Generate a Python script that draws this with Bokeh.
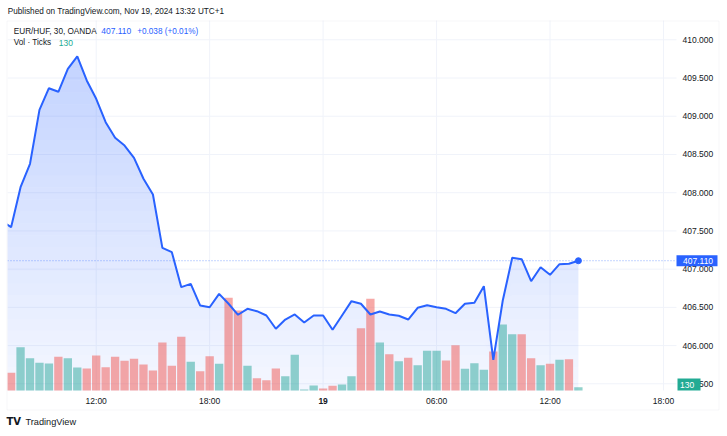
import numpy as np
from bokeh.plotting import figure
from bokeh.models import Range1d, Label, BoxAnnotation, ColumnDataSource
from bokeh.core.properties import value
from bokeh.embed import file_html
from bokeh.resources import INLINE

# ---------------- data ----------------
header = "Published on TradingView.com, Nov 19, 2024 13:32 UTC+1"
symbol = "EUR/HUF, 30, OANDA"
change_text = "+0.038 (+0.01%)"
vol_title = "Vol · Ticks"

prev_close = 407.63  # close of the bar just before the visible window
closes = [407.549, 408.072, 408.378, 409.084, 409.367, 409.320, 409.621, 409.782, 409.468, 409.228,
          408.922, 408.718, 408.617, 408.456, 408.182, 407.976, 407.279, 407.222, 406.764, 406.808,
          406.524, 406.502, 406.677, 406.547, 406.403, 406.481, 406.450, 406.394, 406.220, 406.341,
          406.407, 406.302, 406.394, 406.394, 406.207, 406.394, 406.581, 406.547, 406.407, 406.446,
          406.407, 406.390, 406.341, 406.494, 406.528, 406.502, 406.481, 406.424, 406.547, 406.560,
          406.777, 405.814, 406.590, 407.148, 407.130, 406.842, 407.025, 406.926, 407.065, 407.070,
          407.110]

volumes = [710, 1730, 1290, 1110, 1080, 1350, 1290, 920, 880, 1400,
           930, 1350, 1190, 1270, 1040, 800, 1920, 990, 2150, 1150,
           770, 1370, 1070, 3710, 3200, 990, 490, 410, 880, 570,
           1430, 40, 200, 80, 190, 240, 570, 2490, 3670, 1920,
           1450, 1170, 1310, 1010, 1590, 1590, 1200, 1810, 870, 1090,
           830, 1560, 2640, 2250, 2250, 1290, 1010, 1070, 1230, 1250,
           130]

directions = ["down", "up", "up", "up", "up", "down", "up", "up", "down", "down",
              "down", "down", "down", "down", "down", "down", "down", "down", "down", "up",
              "down", "down", "up", "down", "down", "up", "down", "down", "down", "up",
              "up", "up", "up", "down", "down", "up", "up", "down", "down", "up",
              "down", "up", "down", "up", "up", "up", "down", "down", "up", "up",
              "up", "down", "up", "up", "down", "down", "up", "down", "up", "down",
              "up"]

time_ticks = [9, 21, 33, 45, 57, 69]          # bar index (30-min bars from Nov 18 07:30)
time_labels = ["12:00", "18:00", "19", "06:00", "12:00", "18:00"]
price_ticks = [405.5, 406.0, 406.5, 407.0, 407.5, 408.0, 408.5, 409.0, 409.5, 410.0]
price_labels = ["405.500", "406.000", "406.500", "407.000", "407.500",
                "408.000", "408.500", "409.000", "409.500", "410.000"]

# ---------------- layout / styling ----------------
W, H = 727, 436
BAR_PX = 9.455          # pixels per bar
BAR0_PX = 10.6          # pixel x of bar 0
PRICE_PX = 0.013081     # price per pixel
REF_PRICE, REF_PY = 410.0, 39.3
VOL_PX = 40.0           # volume per pixel
PANE_L, PANE_R, PANE_T, PANE_B = 7, 676, 20, 390

def px_x(px):
    return (px - BAR0_PX) / BAR_PX

def py_price(py):
    return REF_PRICE - (py - REF_PY) * PRICE_PX

FONT = "Liberation Sans"
TXT = "#131722"
BLUE = "#2962ff"
UP = "#26a69a"
DOWN = "#ef5350"
TEAL = "#22ab94"
GRID = "#f0f3fa"

xl, xr = px_x(PANE_L), px_x(PANE_R)
yt, yb = py_price(PANE_T), py_price(PANE_B)

p = figure(width=W, height=H,
           x_range=Range1d(px_x(0), px_x(W)), y_range=Range1d(py_price(H), py_price(0)),
           output_backend="svg", toolbar_location=None,
           x_axis_location=None, y_axis_location=None,
           min_border=0, background_fill_color="white", border_fill_color="white",
           outline_line_color=None)
p.grid.visible = False
p.extra_y_ranges = {"vol": Range1d(-(H - PANE_B) * VOL_PX, PANE_B * VOL_PX)}

# grid
p.segment(x0=xl, x1=xr, y0=price_ticks, y1=price_ticks, line_color=GRID, line_width=1)
p.segment(x0=time_ticks, x1=time_ticks, y0=yb, y1=yt, line_color=GRID, line_width=1)

# area fill (vertical gradient approximated by stacked bands)
idx = list(range(len(closes)))
line_x = np.array([-1] + idx, dtype=float)
line_y = np.array([prev_close] + closes, dtype=float)
n_bands = 28
edges = np.linspace(yb, max(closes), n_bands + 1)
for i in range(n_bands):
    lower = np.minimum(line_y, edges[i])
    upper = np.minimum(line_y, edges[i + 1])
    frac = (i + 0.5) / n_bands
    p.varea(x=line_x, y1=lower, y2=upper, fill_color=BLUE, fill_alpha=0.05 + 0.23 * frac)

# volume bars
vsrc = ColumnDataSource(dict(x=idx, top=volumes,
                             color=[UP if d == "up" else DOWN for d in directions]))
p.vbar(x="x", top="top", bottom=0, width=0.88, source=vsrc, y_range_name="vol",
       fill_color="color", fill_alpha=0.5, line_color=None)

# price line + last point
p.line(line_x, line_y, line_color=BLUE, line_width=2)
p.scatter([idx[-1]], [closes[-1]], size=6, color=BLUE)

# last price dotted line
p.segment(x0=xl, x1=xr, y0=closes[-1], y1=closes[-1], line_color=BLUE,
          line_alpha=0.55, line_dash="1 2", line_width=1)

# mask left of the pane, then the chart block border
p.add_layout(BoxAnnotation(left=0, right=PANE_L, top=0, bottom=H,
                           left_units="canvas", right_units="canvas",
                           top_units="canvas", bottom_units="canvas",
                           fill_color="white", fill_alpha=1, line_color=None))
p.add_layout(BoxAnnotation(left=PANE_L - 0.5, right=718.5, top=PANE_T + 0.5, bottom=409.5,
                           left_units="canvas", right_units="canvas",
                           top_units="canvas", bottom_units="canvas",
                           fill_color=None, fill_alpha=0,
                           line_color="#e0e3eb", line_width=1))

# price scale labels
NUM = "8.5px"
p.text(x=xr, y=price_ticks, text=price_labels, x_offset=6,
       text_font=value(FONT), text_font_size=NUM, text_color=TXT,
       text_align="left", text_baseline="middle")

# time scale labels (day change in bold)
reg = [(t, l) for t, l in zip(time_ticks, time_labels) if l != "19"]
bold = [(t, l) for t, l in zip(time_ticks, time_labels) if l == "19"]
p.text(x=[t for t, _ in reg], y=yb, text=[l for _, l in reg], y_offset=10.5,
       text_font=value(FONT), text_font_size=NUM, text_color=TXT,
       text_align="center", text_baseline="middle")
p.text(x=[t for t, _ in bold], y=yb, text=[l for _, l in bold], y_offset=10.5,
       text_font=value(FONT), text_font_size=NUM, text_color=TXT, text_font_style="bold",
       text_align="center", text_baseline="middle")

# last price box on the price scale
box_half = 5.5 * PRICE_PX
p.add_layout(BoxAnnotation(left=PANE_R, right=717, left_units="canvas", right_units="canvas",
                           top=closes[-1] + box_half, bottom=closes[-1] - box_half,
                           fill_color=BLUE, fill_alpha=1, line_color=None))
p.add_layout(Label(x=PANE_R + 6.5, y=closes[-1], x_units="screen", y_units="data",
                   text=f"{closes[-1]:.3f}", text_color="white", text_font=FONT,
                   text_font_size=NUM, text_baseline="middle"))

# last volume box
p.add_layout(BoxAnnotation(left=PANE_R + 1, right=700, top=378, bottom=PANE_B,
                           left_units="canvas", right_units="canvas",
                           top_units="canvas", bottom_units="canvas",
                           fill_color=TEAL, fill_alpha=1, line_color=None))

def lab(x_px, y_px, text, color=TXT, size="8.2px", style="normal", font=FONT):
    # x/y given as canvas pixels from the top-left corner
    p.add_layout(Label(x=x_px, y=H - y_px, x_units="screen", y_units="screen",
                       text=text, text_color=color, text_font=font, text_font_size=size,
                       text_font_style=style, text_baseline="middle"))

lab(679.5, 384, str(volumes[-1]), color="white", size=NUM)

# header & legend
lab(7.3, 11.3, header)
lab(13.3, 30.7, symbol)
lab(100.7, 30.7, f"{closes[-1]:.3f}", color=BLUE, size=NUM)
lab(136.7, 30.7, change_text, color=BLUE)
lab(13.3, 42.3, vol_title)
lab(58.3, 42.3, str(volumes[-1]), color=TEAL, size=NUM)

# logo
lab(6, 421, "TV", size="10px", style="bold", font="DejaVu Sans")
lab(25, 421.5, "TradingView", size="9.2px")

open("out.html", "w").write(file_html(p, INLINE))
